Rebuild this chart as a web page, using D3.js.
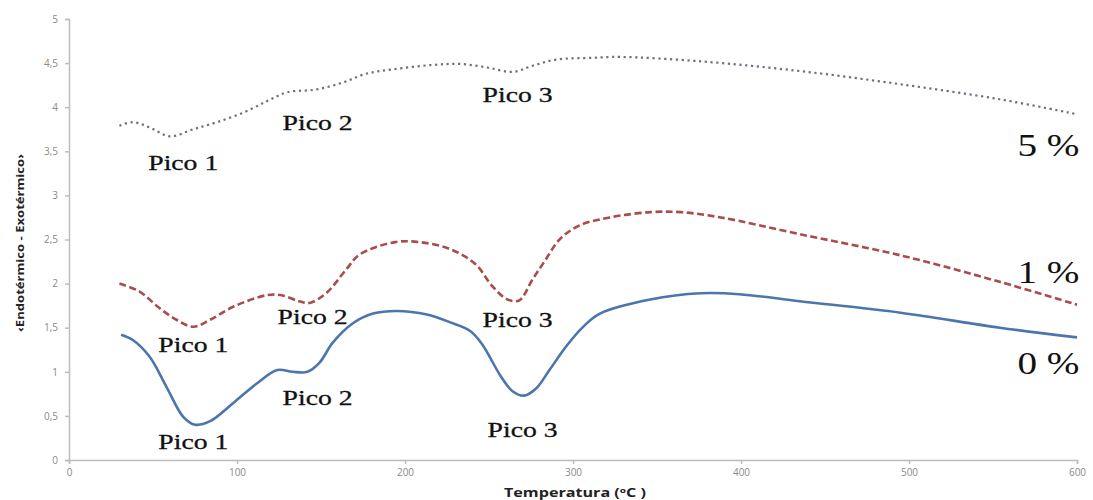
<!DOCTYPE html>
<html>
<head>
<meta charset="utf-8">
<script src="https://cdn.jsdelivr.net/npm/d3@7"></script>
<style>
  body { margin: 0; background: #fff; }
  svg { display: block; }
</style>
</head>
<body>
<div id="chart"></div>
<script>
// temperature (ºC) and signal, one array pair per curve
var temp0 = [31, 38, 48, 58, 68, 75, 84, 98, 112, 124, 133, 142, 149, 157, 169, 181, 195, 213, 227, 239, 246, 257, 264, 271, 278, 286, 296, 306, 316, 346, 376, 399, 435, 495, 554, 600];
var val0  = [1.42, 1.36, 1.17, 0.83, 0.49, 0.40, 0.44, 0.65, 0.87, 1.02, 1.00, 1.00, 1.10, 1.33, 1.55, 1.66, 1.69, 1.65, 1.56, 1.46, 1.31, 0.95, 0.78, 0.73, 0.81, 1.02, 1.29, 1.51, 1.66, 1.82, 1.89, 1.88, 1.80, 1.67, 1.50, 1.39];

var temp1 = [30, 42, 54, 64, 74, 84, 98, 118, 126, 137, 143, 153, 165, 173, 194, 209, 227, 242, 252, 261, 268, 276, 283, 292, 304, 322, 346, 364, 388, 435, 495, 554, 600];
var val1  = [2.00, 1.91, 1.72, 1.59, 1.51, 1.59, 1.74, 1.87, 1.87, 1.80, 1.78, 1.89, 2.16, 2.33, 2.47, 2.47, 2.39, 2.22, 1.97, 1.82, 1.81, 2.05, 2.25, 2.50, 2.66, 2.75, 2.81, 2.81, 2.75, 2.56, 2.32, 2.02, 1.76];

var temp5 = [30, 38, 48, 60, 74, 88, 104, 118, 130, 147, 163, 177, 193, 217, 233, 249, 264, 276, 290, 312, 328, 376, 435, 495, 554, 600];
var val5  = [3.79, 3.83, 3.77, 3.67, 3.75, 3.83, 3.94, 4.07, 4.17, 4.20, 4.28, 4.38, 4.43, 4.48, 4.49, 4.45, 4.40, 4.47, 4.54, 4.56, 4.57, 4.52, 4.41, 4.26, 4.09, 3.92];

var xTicks = [0, 100, 200, 300, 400, 500, 600];
var yTicks = [0, 0.5, 1, 1.5, 2, 2.5, 3, 3.5, 4, 4.5, 5];

// peak labels: [text, temperature, value]
var peakLabels = [
  ["Pico 1", 68, 3.37], ["Pico 2", 148, 3.82], ["Pico 3", 267, 4.14],
  ["Pico 1", 74, 1.30], ["Pico 2", 145, 1.62], ["Pico 3", 267, 1.59],
  ["Pico 1", 74, 0.20], ["Pico 2", 148, 0.70], ["Pico 3", 270, 0.34]
];
var seriesNames = ["5 %", "1 %", "0 %"];
var seriesLabelY = [3.57, 2.13, 1.10];
var seriesLabelX = 583;

var width = 1093, height = 500;
var x = d3.scaleLinear().domain([0, 600]).range([69, 1077]);
var y = d3.scaleLinear().domain([0, 5]).range([460, 19]);

var svg = d3.select("#chart").append("svg")
  .attr("width", width)
  .attr("height", height);

// axes
var axisColor = "#bdbdbd";
var fmt = d => String(d).replace(".", ",");

var gx = svg.append("g")
  .attr("transform", "translate(0,460)")
  .call(d3.axisBottom(x).tickValues(xTicks).tickSize(4).tickPadding(5));
var gy = svg.append("g")
  .attr("transform", "translate(69,0)")
  .call(d3.axisLeft(y).tickValues(yTicks).tickFormat(fmt).tickSize(4).tickPadding(7));

[gx, gy].forEach(g => {
  g.selectAll("path, line").attr("stroke", axisColor).attr("stroke-width", 1.5);
  g.selectAll("text")
    .attr("fill", "#8a8a8a")
    .style("font-family", "'Open Sans', 'DejaVu Sans', sans-serif")
    .style("font-size", "10px");
});

// axis titles
svg.append("text")
  .attr("x", 575).attr("y", 497)
  .attr("text-anchor", "middle")
  .attr("textLength", 142).attr("lengthAdjust", "spacingAndGlyphs")
  .style("font-family", "'Open Sans', 'DejaVu Sans', sans-serif")
  .style("font-weight", "bold")
  .style("font-size", "12px")
  .attr("fill", "#222")
  .text("Temperatura (ºC )");

svg.append("text")
  .attr("transform", "translate(24,243) rotate(-90)")
  .attr("text-anchor", "middle")
  .attr("textLength", 178).attr("lengthAdjust", "spacingAndGlyphs")
  .style("font-family", "'Open Sans', 'DejaVu Sans', sans-serif")
  .style("font-weight", "bold")
  .style("font-size", "10.5px")
  .attr("fill", "#222")
  .text("‹Endotérmico - Exotérmico›");

// curves
var line = d3.line()
  .x(d => x(d[0]))
  .y(d => y(d[1]))
  .curve(d3.curveCatmullRom.alpha(0.5));

var series = [
  { t: temp5, v: val5, color: "#6b7080", w: 2.2, dash: "2.2,3.6" },
  { t: temp1, v: val1, color: "#a84d4b", w: 2.6, dash: "7,3.5" },
  { t: temp0, v: val0, color: "#4b76ad", w: 2.6, dash: null }
];

series.forEach(s => {
  svg.append("path")
    .datum(d3.zip(s.t, s.v))
    .attr("d", line)
    .attr("fill", "none")
    .attr("stroke", s.color)
    .attr("stroke-width", s.w)
    .attr("stroke-dasharray", s.dash);
});

// peak annotations
svg.selectAll(".peak")
  .data(peakLabels)
  .enter().append("text")
  .attr("class", "peak")
  .attr("x", d => x(d[1]))
  .attr("y", d => y(d[2]) + 7)
  .attr("text-anchor", "middle")
  .attr("textLength", 70).attr("lengthAdjust", "spacingAndGlyphs")
  .style("font-family", "'Liberation Serif', 'DejaVu Serif', serif")
  .style("font-size", "21px")
  .attr("fill", "#111")
  .attr("stroke", "#111").attr("stroke-width", 0.3)
  .text(d => d[0]);

svg.selectAll(".pct")
  .data(seriesNames)
  .enter().append("text")
  .attr("class", "pct")
  .attr("x", x(seriesLabelX))
  .attr("y", (d, i) => y(seriesLabelY[i]) + 11)
  .attr("text-anchor", "middle")
  .attr("textLength", 62).attr("lengthAdjust", "spacingAndGlyphs")
  .style("font-family", "'Liberation Serif', 'DejaVu Serif', serif")
  .style("font-size", "31px")
  .attr("fill", "#111")
  .text(d => d);
</script>
</body>
</html>
